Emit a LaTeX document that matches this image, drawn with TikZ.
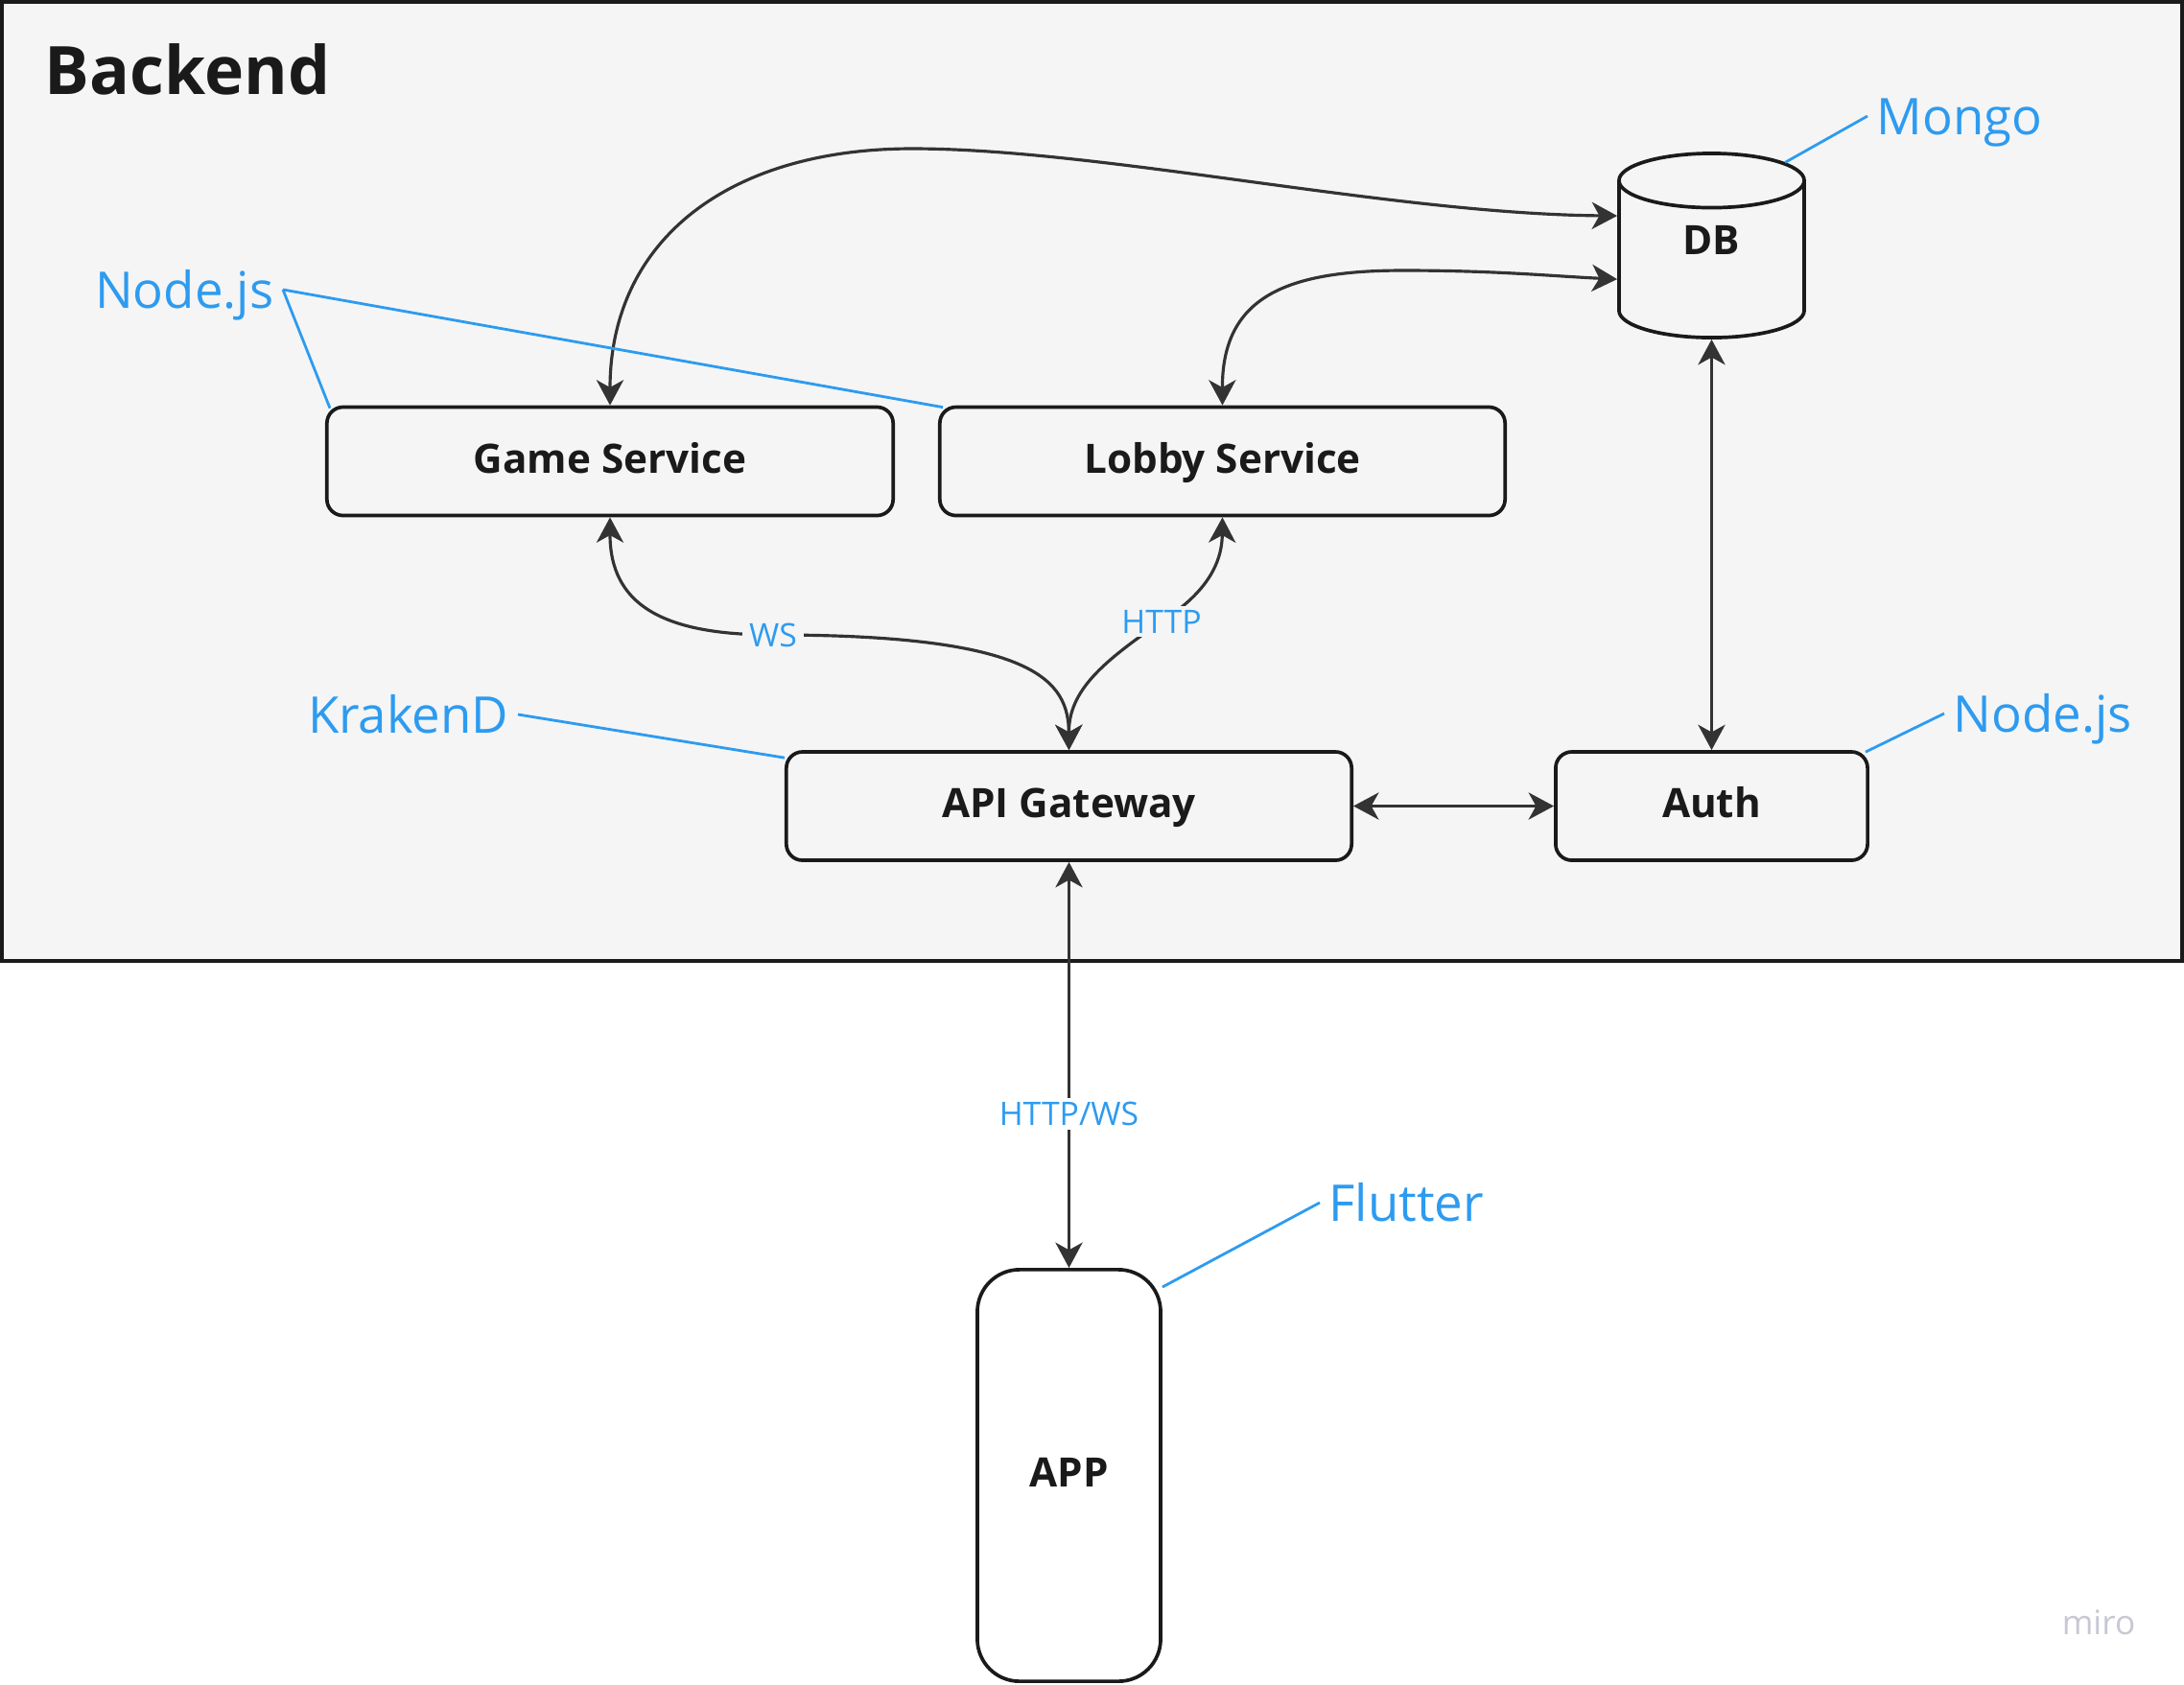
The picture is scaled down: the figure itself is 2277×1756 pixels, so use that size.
\documentclass[tikz,border=0pt]{standalone}
\usepackage{fontspec}
\setmainfont{Open Sans}
\usetikzlibrary{arrows.meta, shapes.geometric, positioning, calc}
\definecolor{miroblue}{RGB}{45,155,240}
\definecolor{framebg}{RGB}{245,245,245}
\definecolor{inkline}{RGB}{51,51,51}
\definecolor{inktext}{RGB}{26,26,26}
\definecolor{watermark}{RGB}{200,200,212}

\begin{document}
\begin{tikzpicture}[x=0.01cm, y=-0.01cm, every node/.style={inner sep=0pt},
  svc/.style={draw=inktext, line width=1.05pt, rounded corners=4.8pt, fill=framebg,
    minimum height=1.13cm, text=inktext, font=\bfseries\fontsize{12}{14}\selectfont,
    text height=0.3cm, text depth=0.06cm},
  tag/.style={text=miroblue, font=\fontsize{15}{18}\selectfont,
    text height=0.38cm, text depth=0pt, inner xsep=0.09cm},
  tagline/.style={draw=miroblue, line width=0.8pt},
  link/.style={draw=inkline, line width=0.9pt,
    {Stealth[length=7.5pt,width=8pt,inset=2.2pt]}-{Stealth[length=7.5pt,width=8pt,inset=2.2pt]}},
  proto/.style={text=miroblue, font=\fontsize{9.6}{11}\selectfont, inner xsep=0.07cm, inner ysep=0.04cm}]
\useasboundingbox (0,0) rectangle (2277,1756);
% backend frame
\draw[draw=inktext, line width=1.05pt, fill=framebg] (2,2) rectangle (2275,1002);
\node[anchor=base west, text=inktext, font=\bfseries\fontsize{19.8}{23}\selectfont] (title) at (46,98) {Backend};
% services
\node[svc, minimum width=5.9cm] (game) at (636,481) {Game Service};
\node[svc, minimum width=5.89cm] (lobby) at (1274.5,481) {Lobby Service};
\node[svc, minimum width=5.89cm] (gateway) at (1114.5,840.5) {API Gateway};
\node[svc, minimum width=3.25cm] (auth) at (1784.5,840.5) {Auth};
\node[cylinder, shape border rotate=90, aspect=0.95, anchor=shape center, draw=inktext, line width=1.05pt,
  fill=framebg, minimum width=1.93cm, minimum height=1.92cm, text=inktext,
  text height=0.29cm, text depth=0.4cm,
  font=\bfseries\fontsize{12}{14}\selectfont] (db) at (1784.5,256) {DB};
\node[svc, fill=white, rounded corners=12.5pt, minimum width=1.91cm, minimum height=4.29cm] (app) at (1114.5,1538.5) {APP};
% database links
\draw[link] (game.north) .. controls (636,250) and (760,155) .. (951,155)
  .. controls (1150,155) and (1450,223) .. ([yshift=0.46cm]db.west);
\draw[link] (lobby.north) .. controls (1274,310) and (1340,282) .. (1463,282)
  .. controls (1560,282) and (1620,288) .. ([yshift=-0.2cm]db.west);
% gateway links
\draw[link] (game.south) .. controls (636,630) and (690,662) .. (806,662) node[proto, fill=framebg] (ws) {WS}
  .. controls (1080,662) and (1114,710) .. (gateway.north);
\draw[link] (lobby.south) .. controls (1274,590) and (1255,620) .. (1211,648) node[proto, fill=framebg] (http) {HTTP}
  .. controls (1150,690) and (1114,720) .. (gateway.north);
\draw[link] (gateway.east) -- (auth.west);
\draw[link] (db.south) -- (auth.north);
\draw[link] (gateway.south) -- node[proto, fill=white, pos=0.62] (httpws) {HTTP/WS} (app.north);
% technology tags
\node[tag, anchor=west] (mongo) at (1947,121) {Mongo};
\node[tag, anchor=east] (nodeleft) at (295,302) {Node.js};
\node[tag, anchor=east] (kraken) at (540,745) {KrakenD};
\node[tag, anchor=west] (noderight) at (2027,744) {Node.js};
\node[tag, anchor=west] (flutter) at (1376,1254) {Flutter};
\draw[tagline] (mongo.west) -- (db.53);
\draw[tagline] (nodeleft.east) -- ([xshift=0.05cm,yshift=-0.03cm]game.north west);
\draw[tagline] (nodeleft.east) -- ([xshift=0.05cm,yshift=-0.02cm]lobby.north west);
\draw[tagline] (kraken.east) -- ([yshift=-0.08cm]gateway.north west);
\draw[tagline] (noderight.west) -- ([xshift=-0.04cm,yshift=-0.02cm]auth.north east);
\draw[tagline] (flutter.west) -- ([yshift=-0.2cm]app.north east);
\node[text=watermark, font=\fontsize{10}{12}\selectfont] (miro) at (2188,1692) {miro};
\end{tikzpicture}
\end{document}
